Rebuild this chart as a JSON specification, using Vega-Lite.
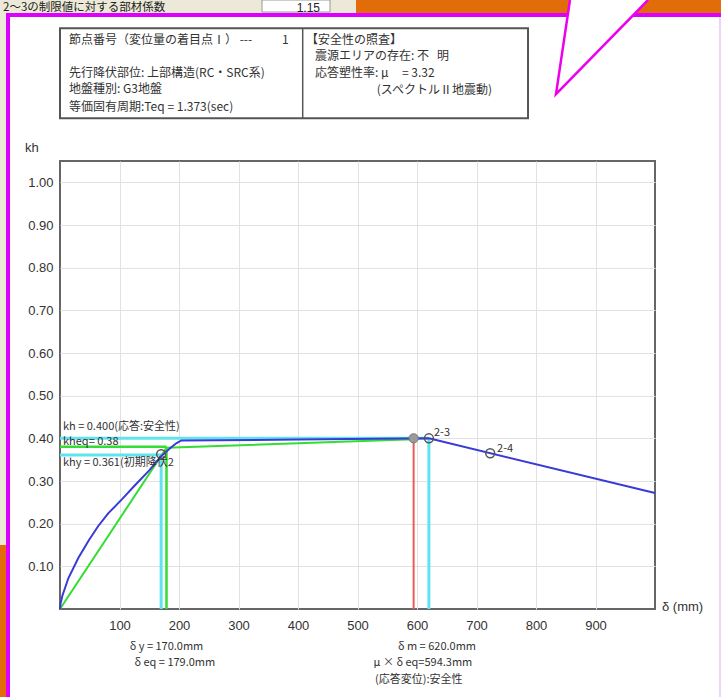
{
  "$schema": "https://vega.github.io/schema/vega-lite/v6.json",
  "width": 595,
  "height": 448,
  "autosize": {"type": "none"},
  "padding": {"left": 60, "top": 161, "right": 66, "bottom": 88},
  "background": "white",
  "config": {
    "view": {"stroke": "#666", "strokeWidth": 2},
    "axis": {"gridColor": "#e2e2e2", "gridWidth": 1}
  },
  "datasets": {
    "chrome": [
      {"x": -100.84, "x2": 500.8, "y": 1.4273, "y2": 1.3969, "k": "beige"},
      {"x": -100.84, "x2": -90.76, "y": 1.3969, "y2": 0.15, "k": "beige"},
      {"x": -100.84, "x2": -90.76, "y": 0.15, "y2": -0.2063, "k": "orange"},
      {"x": 497.5, "x2": 1110.9, "y": 1.4273, "y2": 1.3969, "k": "orange"},
      {"x": -90.76, "x2": -84.03, "y": 1.3969, "y2": -0.2063, "k": "magenta"},
      {"x": -90.76, "x2": 1110.9, "y": 1.3969, "y2": 1.3875, "k": "magenta"},
      {"x": 1107.5, "x2": 1110.9, "y": 1.3875, "y2": -0.2063, "k": "pink"}
    ],
    "inputbox": [
      {"x": 339.5, "x2": 453.8, "y": 1.4273, "y2": 1.3992}
    ],
    "triangle": [
      {"x": 833.6, "y": 1.207, "y2": 1.207},
      {"x": 857.1, "y": 1.4273, "y2": 1.2405},
      {"x": 988.2, "y": 1.4273, "y2": 1.4273}
    ],
    "callout": [
      {"x": 857.1, "y": 1.4273, "o": 1},
      {"x": 833.6, "y": 1.207, "o": 2},
      {"x": 988.2, "y": 1.4273, "o": 3}
    ],
    "topstrip": [
      {"x": -95.8, "y": 1.4086, "t": "2～3の制限値に対する部材係数"}
    ],
    "topnum": [
      {"x": 437, "y": 1.4086, "t": "1.15"}
    ],
    "hbox": [
      {"x": 0, "x2": 786.6, "y": 1.361, "y2": 1.15}
    ],
    "hdiv": [
      {"x": 407.9, "x2": 407.9, "y": 1.361, "y2": 1.15}
    ],
    "htext": [
      {"x": 15.1, "y": 1.3336, "t": "節点番号（変位量の着目点Ⅰ）\u00a0---"},
      {"x": 373.1, "y": 1.3336, "t": "1"},
      {"x": 15.1, "y": 1.257, "t": "先行降伏部位: 上部構造(RC・SRC系)"},
      {"x": 15.1, "y": 1.218, "t": "地盤種別: G3地盤"},
      {"x": 15.1, "y": 1.1759, "t": "等価固有周期:Teq = 1.373(sec)"},
      {"x": 413.4, "y": 1.3336, "t": "【安全性の照査】"},
      {"x": 428.6, "y": 1.2961, "t": "震源エリアの存在: 不\u00a0\u00a0\u00a0明"},
      {"x": 428.6, "y": 1.257, "t": "応答塑性率: μ\u00a0\u00a0\u00a0\u00a0\u00a0= 3.32"},
      {"x": 532.2, "y": 1.2164, "t": "(スペクトルⅡ地震動)"}
    ],
    "refs": [
      {"x": 0, "x2": 620, "y": 0.4, "y2": 0.4, "s": "cyan"},
      {"x": 0, "x2": 170, "y": 0.361, "y2": 0.361, "s": "cyan"},
      {"x": 170, "x2": 170, "y": 0, "y2": 0.361, "s": "cyan"},
      {"x": 620, "x2": 620, "y": 0, "y2": 0.4, "s": "cyan"},
      {"x": 0, "x2": 179, "y": 0.38, "y2": 0.38, "s": "green"},
      {"x": 179, "x2": 179, "y": 0, "y2": 0.38, "s": "green"},
      {"x": 594.3, "x2": 594.3, "y": 0, "y2": 0.4, "s": "red"}
    ],
    "green": [
      {"x": 0, "y": 0},
      {"x": 179, "y": 0.378},
      {"x": 594.3, "y": 0.398}
    ],
    "blue": [
      {"x": 0, "y": 0},
      {"x": 1, "y": 0.013},
      {"x": 4, "y": 0.031},
      {"x": 14, "y": 0.072},
      {"x": 31, "y": 0.12},
      {"x": 48, "y": 0.16},
      {"x": 64, "y": 0.194},
      {"x": 81, "y": 0.224},
      {"x": 104, "y": 0.257},
      {"x": 124, "y": 0.287},
      {"x": 150, "y": 0.325},
      {"x": 170, "y": 0.358},
      {"x": 186, "y": 0.378},
      {"x": 196, "y": 0.389},
      {"x": 204, "y": 0.395},
      {"x": 400, "y": 0.397},
      {"x": 620, "y": 0.4},
      {"x": 1000, "y": 0.272}
    ],
    "openpts": [
      {"x": 170, "y": 0.363},
      {"x": 620, "y": 0.4},
      {"x": 723, "y": 0.365}
    ],
    "fillpts": [
      {"x": 594.3, "y": 0.4}
    ],
    "plotlbl": [
      {"x": 5, "y": 0.4273, "t": "kh = 0.400(応答:安全性)"},
      {"x": 5, "y": 0.3922, "t": "kheq= 0.38"},
      {"x": 5, "y": 0.343, "t": "khy = 0.361(初期降伏2"},
      {"x": 628.6, "y": 0.4125, "t": "2-3"},
      {"x": 734.5, "y": 0.375, "t": "2-4"}
    ],
    "bottomlbl": [
      {"x": 179, "y": -0.0891, "t": "δ y = 170.0mm"},
      {"x": 193, "y": -0.1266, "t": "δ eq = 179.0mm"},
      {"x": 633.6, "y": -0.0891, "t": "δ m = 620.0mm"},
      {"x": 610, "y": -0.1266, "t": "μ × δ eq=594.3mm"},
      {"x": 603, "y": -0.1664, "t": "(応答変位):安全性"}
    ],
    "axlbl": [
      {"x": -58.8, "y": 1.0805, "t": "kh"},
      {"x": 1011.8, "y": 0.0054, "t": "δ (mm)"}
    ]
  },
  "encoding": {
    "x": {
      "field": "x",
      "type": "quantitative",
      "scale": {"domain": [0, 1000], "nice": false, "zero": false},
      "axis": {
        "values": [100, 200, 300, 400, 500, 600, 700, 800, 900],
        "grid": true,
        "domain": false,
        "ticks": false,
        "labelFont": "Liberation Sans",
        "labelFontSize": 13,
        "labelColor": "#333",
        "labelPadding": 10,
        "title": null
      }
    },
    "y": {
      "field": "y",
      "type": "quantitative",
      "scale": {"domain": [0, 1.05], "nice": false, "zero": false},
      "axis": {
        "values": [0.1, 0.2, 0.3, 0.4, 0.5, 0.6, 0.7, 0.8, 0.9, 1.0],
        "format": ".2f",
        "grid": true,
        "domain": false,
        "ticks": false,
        "labelFont": "Liberation Sans",
        "labelFontSize": 13,
        "labelColor": "#333",
        "labelPadding": 7,
        "title": null
      }
    }
  },
  "layer": [
    {
      "data": {"name": "chrome"},
      "mark": {"type": "rect"},
      "encoding": {
        "x2": {"field": "x2"},
        "y2": {"field": "y2"},
        "fill": {
          "field": "k",
          "type": "nominal",
          "scale": {"domain": ["beige", "orange", "magenta", "pink"], "range": ["#ece9d8", "#e36c0a", "#dd00ff", "#f1d2fb"]},
          "legend": null
        }
      }
    },
    {
      "data": {"name": "inputbox"},
      "mark": {"type": "rect", "fill": "white", "stroke": "#9a9a9a", "strokeWidth": 1},
      "encoding": {"x2": {"field": "x2"}, "y2": {"field": "y2"}}
    },
    {
      "data": {"name": "triangle"},
      "mark": {"type": "area", "fill": "white", "opacity": 1},
      "encoding": {"y2": {"field": "y2"}}
    },
    {
      "data": {"name": "callout"},
      "mark": {"type": "line", "color": "#ee00ee", "strokeWidth": 2.5},
      "encoding": {"order": {"field": "o", "type": "quantitative"}}
    },
    {
      "data": {"name": "topstrip"},
      "mark": {"type": "text", "align": "left", "baseline": "middle", "font": "Noto Sans CJK JP", "fontSize": 11.5, "color": "#222"},
      "encoding": {"text": {"field": "t"}}
    },
    {
      "data": {"name": "topnum"},
      "mark": {"type": "text", "align": "right", "baseline": "middle", "font": "Liberation Sans", "fontSize": 12, "color": "#222"},
      "encoding": {"text": {"field": "t"}}
    },
    {
      "data": {"name": "hbox"},
      "mark": {"type": "rect", "fill": "white", "stroke": "#555", "strokeWidth": 2},
      "encoding": {"x2": {"field": "x2"}, "y2": {"field": "y2"}}
    },
    {
      "data": {"name": "hdiv"},
      "mark": {"type": "rule", "color": "#555", "strokeWidth": 1.5},
      "encoding": {"x2": {"field": "x2"}, "y2": {"field": "y2"}}
    },
    {
      "data": {"name": "htext"},
      "mark": {"type": "text", "align": "left", "baseline": "middle", "font": "Noto Sans CJK JP", "fontSize": 12, "color": "#333"},
      "encoding": {"text": {"field": "t"}}
    },
    {
      "data": {"name": "refs"},
      "mark": {"type": "rule"},
      "encoding": {
        "x2": {"field": "x2"},
        "y2": {"field": "y2"},
        "stroke": {
          "field": "s",
          "type": "nominal",
          "scale": {"domain": ["cyan", "green", "red"], "range": ["#5fe4ee", "#33dd33", "#ee5a5a"]},
          "legend": null
        },
        "strokeWidth": {
          "field": "s",
          "type": "nominal",
          "scale": {"domain": ["cyan", "green", "red"], "range": [3, 2, 2]},
          "legend": null
        }
      }
    },
    {
      "data": {"name": "green"},
      "mark": {"type": "line", "color": "#33dd33", "strokeWidth": 2},
      "encoding": {}
    },
    {
      "data": {"name": "blue"},
      "mark": {"type": "line", "color": "#3a3ad8", "strokeWidth": 2},
      "encoding": {}
    },
    {
      "data": {"name": "fillpts"},
      "mark": {"type": "point", "shape": "circle", "filled": true, "fill": "#9a9a9a", "stroke": "#777", "strokeWidth": 1, "size": 85, "opacity": 1},
      "encoding": {}
    },
    {
      "data": {"name": "openpts"},
      "mark": {"type": "point", "shape": "circle", "filled": false, "stroke": "#555", "strokeWidth": 1.5, "size": 80, "opacity": 1},
      "encoding": {}
    },
    {
      "data": {"name": "plotlbl"},
      "mark": {"type": "text", "align": "left", "baseline": "middle", "font": "Noto Sans CJK JP", "fontSize": 11, "color": "#333"},
      "encoding": {"text": {"field": "t"}}
    },
    {
      "data": {"name": "bottomlbl"},
      "mark": {"type": "text", "align": "center", "baseline": "middle", "font": "Noto Sans CJK JP", "fontSize": 11, "color": "#333"},
      "encoding": {"text": {"field": "t"}}
    },
    {
      "data": {"name": "axlbl"},
      "mark": {"type": "text", "align": "left", "baseline": "middle", "font": "Liberation Sans", "fontSize": 13, "color": "#333"},
      "encoding": {"text": {"field": "t"}}
    }
  ]
}
